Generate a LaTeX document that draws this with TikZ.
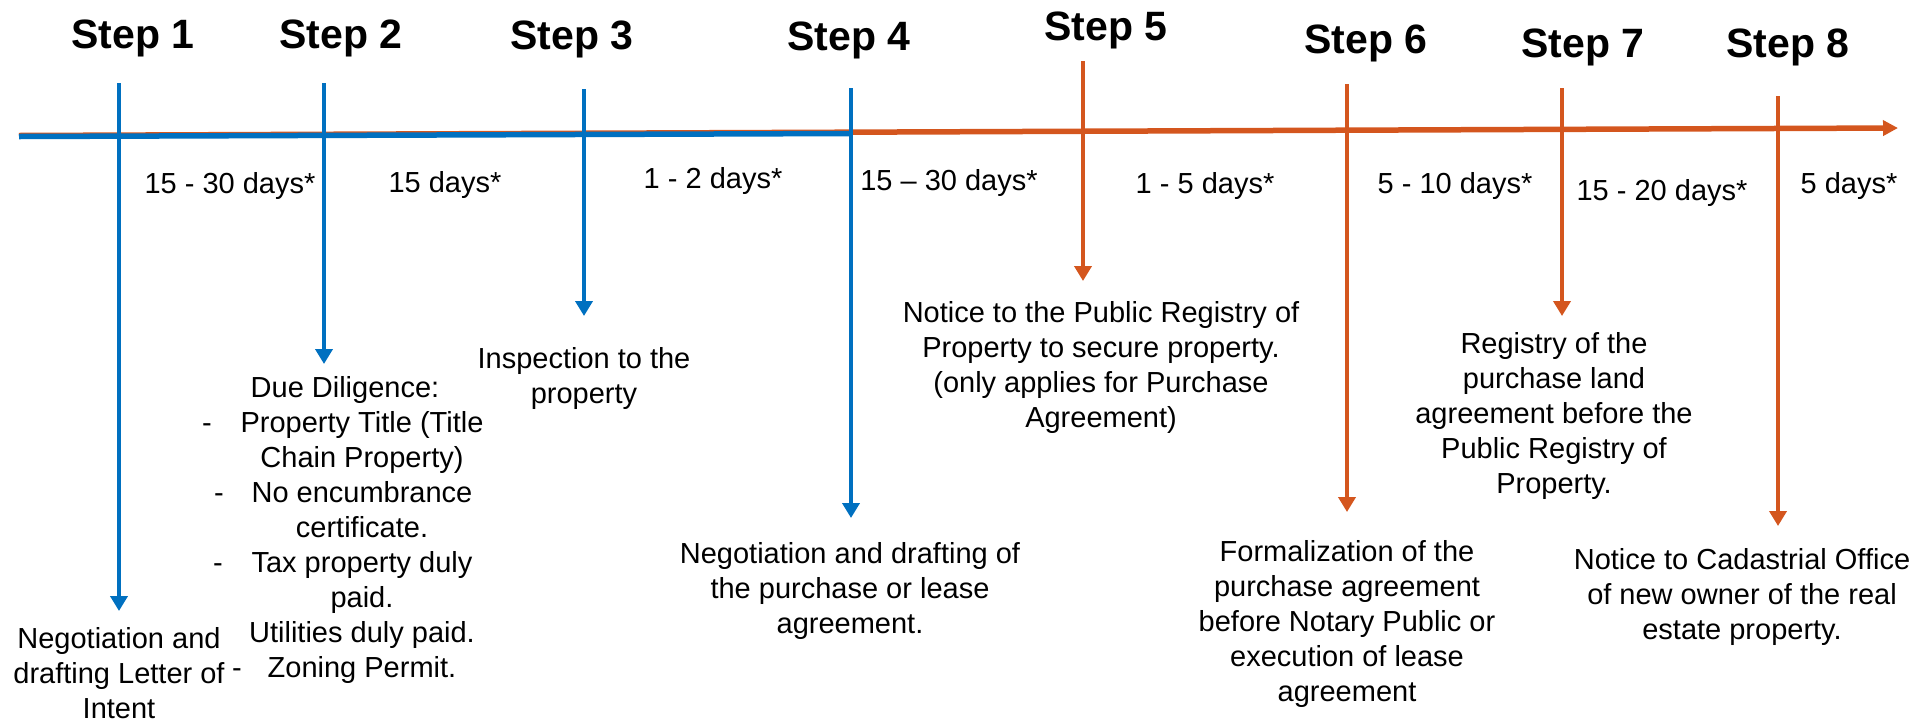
\documentclass[tikz,border=0pt]{standalone}
\usepackage{fontspec}
\setmainfont{Liberation Sans}
\usetikzlibrary{arrows.meta}
\definecolor{tlblue}{RGB}{0,112,192}
\definecolor{tlorange}{RGB}{212,86,30}
\newcommand{\tabtext}[1]{\begin{tabular}[t]{@{}c@{}}#1\end{tabular}}
\tikzset{
  steplabel/.style={font=\fontsize{41}{48}\selectfont\bfseries, anchor=base, inner sep=0pt},
  durlabel/.style={font=\fontsize{29}{35}\selectfont, anchor=base, inner sep=0pt},
  desclabel/.style={font=\fontsize{29}{35}\selectfont, anchor=base, inner sep=0pt},
  bluearrow/.style={draw=tlblue, line width=4.5pt, -{Triangle[width=17pt,length=15pt]}},
  orangearrow/.style={draw=tlorange, line width=4.5pt, -{Triangle[width=17pt,length=15pt]}},
  mainline/.style={line width=5.5pt}
}
\begin{document}
\begin{tikzpicture}[x=1pt,y=-1pt]
\useasboundingbox (0,0) rectangle (1917,721);

% main timeline
\coordinate (tlstart) at (19,135.5);
\coordinate (tlend) at (1898,128);
\coordinate (tlbluestart) at (19,136.5);
\coordinate (tlblueend) at (851,133.5);
\draw[mainline, draw=tlorange, -{Triangle[width=15pt,length=15pt]}] (tlstart) -- (tlend);
\draw[mainline, draw=tlblue] (tlbluestart) -- (tlblueend);

% vertical arrows
\coordinate (s1top) at (119,83);   \coordinate (s1tip) at (119,611);
\coordinate (s2top) at (324,83);   \coordinate (s2tip) at (324,364);
\coordinate (s3top) at (584,89);   \coordinate (s3tip) at (584,316);
\coordinate (s4top) at (851,88);   \coordinate (s4tip) at (851,518);
\coordinate (s5top) at (1083,61);  \coordinate (s5tip) at (1083,281);
\coordinate (s6top) at (1347,84);  \coordinate (s6tip) at (1347,512);
\coordinate (s7top) at (1562,88);  \coordinate (s7tip) at (1562,316);
\coordinate (s8top) at (1778,96);  \coordinate (s8tip) at (1778,526);
\draw[bluearrow] (s1top) -- (s1tip);
\draw[bluearrow] (s2top) -- (s2tip);
\draw[bluearrow] (s3top) -- (s3tip);
\draw[bluearrow] (s4top) -- (s4tip);
\draw[orangearrow] (s5top) -- (s5tip);
\draw[orangearrow] (s6top) -- (s6tip);
\draw[orangearrow] (s7top) -- (s7tip);
\draw[orangearrow] (s8top) -- (s8tip);

% step labels
\node[steplabel] (st1) at (133,48) {Step 1};
\node[steplabel] (st2) at (341,48) {Step 2};
\node[steplabel] (st3) at (572,49) {Step 3};
\node[steplabel] (st4) at (849,50) {Step 4};
\node[steplabel] (st5) at (1106,40) {Step 5};
\node[steplabel] (st6) at (1366,53) {Step 6};
\node[steplabel] (st7) at (1583,57) {Step 7};
\node[steplabel] (st8) at (1788,57) {Step 8};

% durations
\node[durlabel] (d1) at (230,193) {15 - 30 days*};
\node[durlabel] (d2) at (445,192) {15 days*};
\node[durlabel] (d3) at (713,188) {1 - 2 days*};
\node[durlabel] (d4) at (949,190) {15 -- 30 days*};
\node[durlabel] (d5) at (1205,193) {1 - 5 days*};
\node[durlabel] (d6) at (1455,193) {5 - 10 days*};
\node[durlabel] (d7) at (1662,200) {15 - 20 days*};
\node[durlabel] (d8) at (1849,193) {5 days*};

% descriptions
\node[desclabel] (t1) at (119,648) {\tabtext{Negotiation and\\drafting Letter of\\Intent}};
\node[desclabel] (t2a) at (345,397) {Due Diligence:};
\node[desclabel] (t2b) at (362,432) {\tabtext{Property Title (Title\\Chain Property)\\No encumbrance\\certificate.\\Tax property duly\\paid.\\Utilities duly paid.\\Zoning Permit.}};
\node[desclabel] (dash1) at (207,432) {-};
\node[desclabel] (dash2) at (219,502) {-};
\node[desclabel] (dash3) at (218,572) {-};
\node[desclabel] (dash4) at (237,677) {-};
\node[desclabel] (t3) at (584,368) {\tabtext{Inspection to the\\property}};
\node[desclabel] (t4) at (850,563) {\tabtext{Negotiation and drafting of\\the purchase or lease\\agreement.}};
\node[desclabel] (t5) at (1101,322) {\tabtext{Notice to the Public Registry of\\Property to secure property.\\(only applies for Purchase\\Agreement)}};
\node[desclabel] (t6) at (1347,561) {\tabtext{Formalization of the\\purchase agreement\\before Notary Public or\\execution of lease\\agreement}};
\node[desclabel] (t7) at (1554,353) {\tabtext{Registry of the\\purchase land\\agreement before the\\Public Registry of\\Property.}};
\node[desclabel] (t8) at (1742,569) {\tabtext{Notice to Cadastrial Office\\of new owner of the real\\estate property.}};
\end{tikzpicture}
\end{document}
